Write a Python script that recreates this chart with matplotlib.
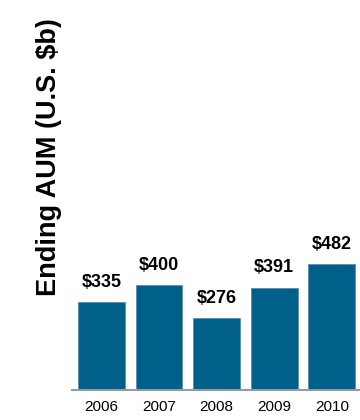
import matplotlib
matplotlib.use("Agg")
import matplotlib.pyplot as plt

years = ["2006", "2007", "2008", "2009", "2010"]
aum = [335, 400, 276, 391, 482]
labels = ["$335", "$400", "$276", "$391", "$482"]

plt.rcParams['font.family'] = ['Liberation Sans', 'DejaVu Sans']

fig = plt.figure(figsize=(3.6, 4.2), dpi=100)
# axes: left 72px, right 360px, bottom 390px from top
ax = fig.add_axes([72/360, 30/420, 288/360, 370/420])

x = range(len(years))
ax.bar(x, aum, width=0.815, color='#00608a', edgecolor='#5a8fae', linewidth=0.6)

for i, (v, lab) in enumerate(zip(aum, labels)):
    ax.annotate(lab, (i, v), xytext=(0, 8), textcoords='offset points',
                ha='center', va='bottom', fontsize=13, fontweight='bold')

ax.set_xlim(-0.51, 4.49)
ax.set_ylim(0, 370/0.262)
ax.set_xticks(list(x))
ax.set_xticklabels(years, fontsize=11)
ax.set_yticks([])
ax.tick_params(axis='x', length=0, pad=7)
for s in ['top', 'right', 'left']:
    ax.spines[s].set_visible(False)
ax.spines['bottom'].set_color('#999999')
ax.spines['bottom'].set_linewidth(1.5)

fig.text(49/360, 1 - 157/420, "Ending AUM (U.S. $b)", rotation=90,
         ha='center', va='center', fontsize=19.5, fontweight='bold')

fig.savefig("out.png", dpi=100)
